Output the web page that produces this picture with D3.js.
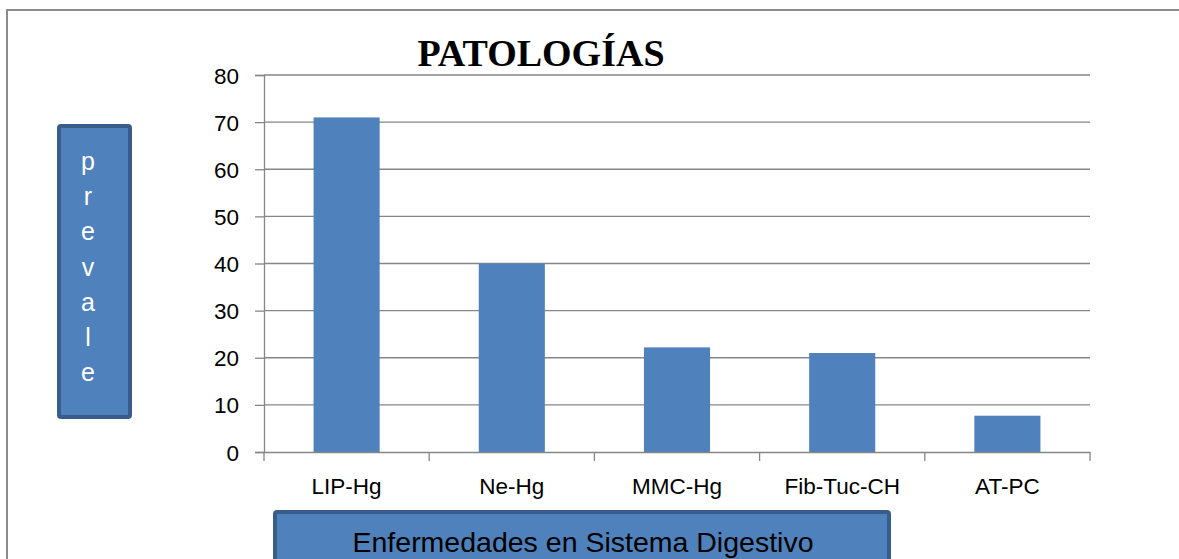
<!DOCTYPE html>
<html>
<head>
<meta charset="utf-8">
<script src="https://cdn.jsdelivr.net/npm/d3@7"></script>
<style>
  html, body { margin: 0; padding: 0; background: #fff; }
  svg { display: block; }
</style>
</head>
<body>
<svg id="chart" width="1179" height="559"></svg>
<script>
const categories = ["LIP-Hg", "Ne-Hg", "MMC-Hg", "Fib-Tuc-CH", "AT-PC"];
const values = [71, 40, 22.2, 21, 7.7];
const yTicks = [0, 10, 20, 30, 40, 50, 60, 70, 80];
const title = "PATOLOGÍAS";
const yLabel = "prevale";
const xLabel = "Enfermedades en Sistema Digestivo";

const svg = d3.select("#chart");
const axisColor = "#868686";
const barColor = "#4F81BD";
const boxStroke = "#385D8A";
const sans = "'Liberation Sans', Arial, sans-serif";

// outer frame
svg.append("rect").attr("x", 7).attr("y", 10).attr("width", 1200).attr("height", 600)
  .attr("fill", "#fff").attr("stroke", "#8c8c8c").attr("stroke-width", 2);

const plot = { left: 264, right: 1090, top: 75, bottom: 452 };

const x = d3.scaleBand().domain(categories).range([plot.left, plot.right]).padding(0);
const y = d3.scaleLinear().domain([0, 80]).range([plot.bottom, plot.top]);

// gridlines
svg.append("g").selectAll("line").data(yTicks.filter(d => d > 0)).join("line")
  .attr("x1", plot.left).attr("x2", plot.right)
  .attr("y1", d => y(d)).attr("y2", d => y(d))
  .attr("stroke", axisColor).attr("stroke-width", 1.3);

// bars
const barW = x.bandwidth() * 0.4;
svg.append("g").selectAll("rect").data(categories).join("rect")
  .attr("x", (d) => x(d) + (x.bandwidth() - barW) / 2)
  .attr("width", barW)
  .attr("y", (d, i) => y(values[i]))
  .attr("height", (d, i) => y(0) - y(values[i]))
  .attr("fill", barColor);

// y axis
const yAxis = d3.axisLeft(y).tickValues(yTicks).tickSize(9).tickPadding(16).tickFormat(d3.format("d"));
const gy = svg.append("g").attr("transform", `translate(${plot.left},0)`).call(yAxis);
gy.select(".domain").attr("stroke", axisColor).attr("stroke-width", 1.3);
gy.selectAll(".tick line").attr("stroke", axisColor).attr("stroke-width", 1.3);
gy.selectAll(".tick text").attr("fill", "#000")
  .style("font-family", sans).style("font-size", "22.5px")
  .attr("dy", "0.36em");

// x axis
const xAxis = d3.axisBottom(x).tickSize(0).tickPadding(26);
const gx = svg.append("g").attr("transform", `translate(0,${plot.bottom})`).call(xAxis);
gx.select(".domain").attr("stroke", axisColor).attr("stroke-width", 1.3);
gx.selectAll(".tick text").attr("fill", "#000")
  .style("font-family", sans).style("font-size", "22.5px");
// category boundary ticks
const bounds = categories.map(d => x(d)).concat([plot.right]);
gx.append("g").selectAll("line").data(bounds).join("line")
  .attr("x1", d => d).attr("x2", d => d).attr("y1", 0).attr("y2", 9)
  .attr("stroke", axisColor).attr("stroke-width", 1.3);

// title
svg.append("text").attr("x", 541).attr("y", 66).attr("text-anchor", "middle")
  .style("font-family", "'Liberation Serif', 'Times New Roman', serif")
  .style("font-weight", "bold").style("font-size", "38px").attr("fill", "#000")
  .text(title);

// y label box
svg.append("rect").attr("x", 59).attr("y", 126).attr("width", 71).attr("height", 291)
  .attr("rx", 2).attr("fill", barColor).attr("stroke", boxStroke).attr("stroke-width", 4);
const letters = yLabel.split("");
svg.append("g").selectAll("text").data(letters).join("text")
  .attr("x", 88).attr("y", (d, i) => 170 + i * 35.2)
  .attr("text-anchor", "middle").attr("fill", "#fff")
  .style("font-family", sans).style("font-size", "25px")
  .text(d => d);

// x label box
svg.append("rect").attr("x", 275).attr("y", 512).attr("width", 614).attr("height", 80)
  .attr("rx", 2).attr("fill", barColor).attr("stroke", boxStroke).attr("stroke-width", 4);
svg.append("text").attr("x", 583).attr("y", 552).attr("text-anchor", "middle")
  .attr("fill", "#000")
  .style("font-family", sans).style("font-size", "28.5px")
  .text(xLabel);
</script>
</body>
</html>
